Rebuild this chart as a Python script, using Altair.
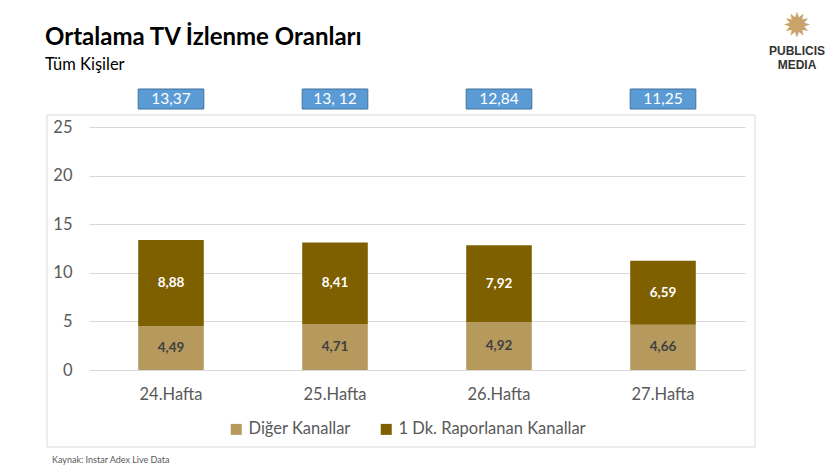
import altair as alt
import pandas as pd

weeks = ["24.Hafta", "25.Hafta", "26.Hafta", "27.Hafta"]
diger = [4.49, 4.71, 4.92, 4.66]
dk1 = [8.88, 8.41, 7.92, 6.59]
totals = ["13,37", "13, 12", "12,84", "11,25"]
series = ["Diğer Kanallar", "1 Dk. Raporlanan Kanallar"]
colors = ["#B5995D", "#7F6000"]

rows = []
for i, w in enumerate(weeks):
    rows.append({"week": w, "series": series[0], "value": diger[i], "ord": 0,
                 "label": f"{diger[i]:.2f}".replace(".", ",")})
    rows.append({"week": w, "series": series[1], "value": dk1[i], "ord": 1,
                 "label": f"{dk1[i]:.2f}".replace(".", ",")})
df = pd.DataFrame(rows)
tot_df = pd.DataFrame({"week": weeks, "total": totals})

FONT = "Lato"
W, H = 656, 243
AX = 16.5

xenc = alt.X("week:N", sort=weeks,
             scale=alt.Scale(paddingInner=0.6, paddingOuter=0.3),
             axis=alt.Axis(title=None, labelAngle=0, domain=False, ticks=False,
                           labelPadding=16, labelFontSize=AX, labelColor="#595959",
                           labelFont=FONT))

base = alt.Chart(df)

border = alt.Chart(pd.DataFrame({"a": [0]})).mark_rect(
    fillOpacity=0, stroke="#D9D9D9", strokeWidth=1).encode(
    x=alt.value(-42), x2=alt.value(666), y=alt.value(-12), y2=alt.value(320))

bars = base.mark_bar().encode(
    x=xenc,
    y=alt.Y("value:Q", stack="zero",
            scale=alt.Scale(domain=[0, 25], nice=False, zero=True),
            axis=alt.Axis(title=None, values=[0, 5, 10, 15, 20, 25], domain=False,
                          ticks=False, labelPadding=17, labelFontSize=AX,
                          labelColor="#595959", labelFont=FONT,
                          gridColor="#D9D9D9", grid=True)),
    color=alt.Color("series:N", scale=alt.Scale(domain=series, range=colors),
                    sort=series,
                    legend=alt.Legend(title=None, orient="none", legendX=139, legendY=294,
                                      direction="horizontal", symbolType="square",
                                      symbolSize=121, symbolStrokeWidth=0,
                                      labelFontSize=AX, labelColor="#595959",
                                      labelFont=FONT, columnPadding=27, labelOffset=4,
                                      labelLimit=400, symbolOpacity=1)),
    order=alt.Order("ord:Q", sort="ascending"),
)

labels = base.transform_stack(
    stack="value", groupby=["week"], as_=["v0", "v1"],
    sort=[alt.SortField("ord", order="ascending")]
).transform_calculate(mid="(datum.v0 + datum.v1) / 2").mark_text(
    fontWeight="bold", fontSize=13.5, font=FONT
).encode(
    x=alt.X("week:N", sort=weeks),
    y=alt.Y("mid:Q"),
    text="label:N",
    color=alt.Color("series:N", scale=alt.Scale(domain=series, range=["#404040", "#FFFFFF"]),
                    legend=None),
)

boxes = alt.Chart(tot_df).mark_bar(fill="#5B9BD5", stroke="#41719C", strokeWidth=1).encode(
    x=alt.X("week:N", sort=weeks),
    y=alt.value(-38), y2=alt.value(-18))

box_text = alt.Chart(tot_df).mark_text(color="white", fontSize=15.5, font=FONT).encode(
    x=alt.X("week:N", sort=weeks), y=alt.value(-28), text="total:N")

ann = pd.DataFrame({"a": [0]})
title = alt.Chart(ann).mark_text(text="Ortalama TV İzlenme Oranları", fontSize=24,
                                 fontWeight="bold", font=FONT, align="left",
                                 baseline="alphabetic", color="#000000").encode(
    x=alt.value(-44), y=alt.value(-82))
subtitle = alt.Chart(ann).mark_text(text="Tüm Kişiler", fontSize=16.5, font=FONT,
                                    align="left", baseline="alphabetic",
                                    color="#000000").encode(
    x=alt.value(-44), y=alt.value(-57))
source = alt.Chart(ann).mark_text(text="Kaynak: Instar  Adex Live Data", fontSize=9,
                                  font=FONT, align="left", baseline="middle",
                                  color="#595959").encode(
    x=alt.value(-37), y=alt.value(333))
logo1 = alt.Chart(ann).mark_text(text="PUBLICIS", fontSize=12, fontWeight="bold",
                                 font="Liberation Sans", color="#333333").encode(
    x=alt.value(708), y=alt.value(-76))
logo2 = alt.Chart(ann).mark_text(text="MEDIA", fontSize=12, fontWeight="bold",
                                 font="Liberation Sans", color="#333333").encode(
    x=alt.value(708), y=alt.value(-62))
lion = alt.Chart(ann).mark_text(text="✹", fontSize=34, font="DejaVu Sans",
                                color="#C9A36A").encode(
    x=alt.value(708), y=alt.value(-100))

chart = alt.layer(border, bars, labels, boxes, box_text, title, subtitle, source,
                  logo1, logo2, lion).resolve_scale(color="independent").properties(
    width=W, height=H,
    autosize=alt.AutoSizeParams(type="none"),
    padding={"left": 89, "top": 127, "right": 85, "bottom": 97},
    background="white",
).configure_view(stroke=None)

chart.save("out.html", embed_options={"renderer": "svg", "actions": False})
